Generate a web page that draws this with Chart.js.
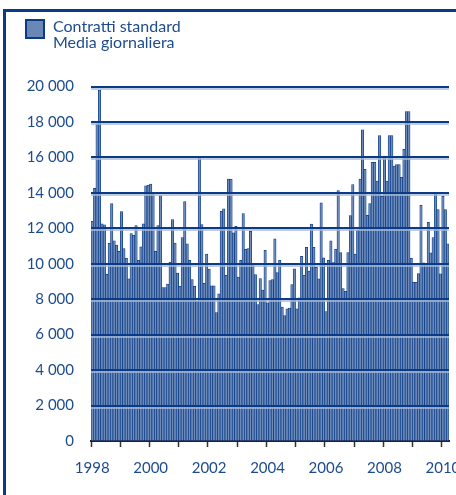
<!DOCTYPE html>
<html><head><meta charset="utf-8">
<script src="https://cdn.jsdelivr.net/npm/chart.js@4"></script>
<style>
html,body{margin:0;padding:0;background:#fff;}
#wrap{position:relative;width:456px;height:495px;overflow:hidden;background:#fff;}
#frame{position:absolute;left:3px;top:9px;width:800px;height:800px;border:3px solid #0b3b86;box-sizing:border-box;}
#chart{position:absolute;left:0;top:0;}
#legend{position:absolute;left:25px;top:19px;font-family:'Lato',sans-serif;font-size:16px;line-height:15.5px;color:#1d4c8e;}
#legend .sw{position:absolute;left:0;top:0;width:20px;height:20px;box-sizing:border-box;border:2px solid #0b3b86;background:#6a88b6;}
#legend .tx{position:absolute;left:28px;top:-1px;white-space:nowrap;}
</style></head>
<body>
<div id="wrap">
  <div id="frame"></div>
  <canvas id="chart" width="456" height="495"></canvas>
  <div id="legend"><div class="sw"></div><div class="tx">Contratti standard<br>Media giornaliera</div></div>
</div>
<script>
// Monthly values (daily average of standard contracts), Jan 1998 – Mar 2010
const v1998 = [12400, 14250, 17900, 19800, 12250, 12200, 9400, 11150, 13400, 11300, 11050, 10700];
const v1999 = [12950, 10850, 10300, 9150, 11700, 11600, 12150, 10200, 10950, 12250, 14400, 14420];
const v2000 = [14500, 13950, 10700, 12150, 13850, 8650, 8650, 8860, 10100, 12490, 11170, 9480];
const v2001 = [8720, 11470, 13510, 11130, 10190, 9100, 8720, 7890, 16060, 12210, 8900, 10550];
const v2002 = [9700, 8750, 8750, 7250, 8300, 12960, 13100, 9340, 14780, 14780, 11740, 12110];
const v2003 = [9250, 10190, 12830, 10810, 10850, 11830, 9950, 9390, 7700, 9160, 8510, 10760];
const v2004 = [7800, 9050, 9110, 11400, 9500, 10200, 7550, 7080, 7450, 7500, 8830, 9710];
const v2005 = [7450, 8080, 10420, 9350, 10930, 9580, 12240, 10930, 9800, 9150, 13430, 10330];
const v2006 = [7300, 10200, 11300, 10060, 10820, 14130, 10630, 8600, 8450, 10630, 12720, 14460];
const v2007 = [10540, 11900, 14780, 17550, 15330, 12730, 13400, 15720, 15720, 14660, 17230, 13810];
const v2008 = [16080, 14660, 17230, 17230, 15510, 15600, 15600, 14870, 16450, 18590, 18590, 10300];
const v2009 = [8950, 8950, 9450, 13300, 10050, 10000, 12330, 10620, 11470, 13920, 13060, 9430];
const v2010 = [13810, 13060, 11130];

const startYear = 1998;
const tickYears = ['1998', '2000', '2002', '2004', '2006', '2008', '2010'];
const seriesLabel = 'Contratti standard – Media giornaliera';

const values = [].concat(v1998, v1999, v2000, v2001, v2002, v2003, v2004, v2005, v2006, v2007, v2008, v2009, v2010);
const months = values.map((_, i) => (startYear + Math.floor(i / 12)) + '-' + String(i % 12 + 1).padStart(2, '0'));

const DARK = '#0b3b86';
const FILL = '#6d8bb9';
const TEXT = '#1d4c8e';
const FONT = {family: 'Lato', size: 15};

const gridOnTop = {
  id: 'gridOnTop',
  afterDatasetsDraw(chart) {
    const {ctx, chartArea: a, scales: {y}} = chart;
    ctx.save();
    y.ticks.forEach(t => {
      if (t.value === 0) return;
      const py = Math.round(y.getPixelForValue(t.value));
      ctx.strokeStyle = '#a9bbd8';
      ctx.lineWidth = 1.5;
      ctx.beginPath(); ctx.moveTo(a.left, py + 2); ctx.lineTo(a.right, py + 2); ctx.stroke();
      ctx.strokeStyle = DARK;
      ctx.lineWidth = 2;
      ctx.beginPath(); ctx.moveTo(a.left, py); ctx.lineTo(a.right, py); ctx.stroke();
    });
    ctx.restore();
  }
};

new Chart(document.getElementById('chart'), {
  type: 'bar',
  data: {
    labels: months,
    datasets: [{
      label: seriesLabel,
      data: values,
      backgroundColor: FILL,
      borderColor: DARK,
      borderWidth: 0.75,
      barPercentage: 1,
      categoryPercentage: 1,
      borderSkipped: 'start'
    }]
  },
  options: {
    responsive: false,
    animation: false,
    devicePixelRatio: 1,
    layout: {padding: {top: 86.5, right: 7, bottom: 0, left: 0}},
    plugins: {legend: {display: false}, tooltip: {enabled: false}},
    scales: {
      x: {
        offset: true,
        grid: {
          offset: true,
          drawOnChartArea: false,
          drawTicks: true,
          tickLength: 6,
          tickWidth: 1.5,
          tickColor: c => (c.index % 12 === 0 ? '#333333' : 'rgba(0,0,0,0)')
        },
        border: {display: true, color: '#16233f', width: 2},
        ticks: {
          autoSkip: false, maxRotation: 0, minRotation: 0, padding: 12,
          color: TEXT, font: FONT,
          callback: (v, i) => (i % 24 === 0 ? tickYears[i / 24] : '')
        },
        afterFit: s => { s.height = 54; s.paddingLeft = 0; s.paddingRight = 0; }
      },
      y: {
        min: 0, max: 20000,
        grid: {display: true, drawOnChartArea: false, drawTicks: false},
        border: {display: false},
        ticks: {
          stepSize: 2000, padding: 17, color: TEXT, font: FONT,
          callback: v => String(v).replace(/\B(?=(\d{3})+(?!\d))/g, ' ')
        },
        afterFit: s => { s.width = 91; s.paddingTop = 0; s.paddingBottom = 0; }
      }
    }
  },
  plugins: [gridOnTop]
});
</script>
</body></html>
